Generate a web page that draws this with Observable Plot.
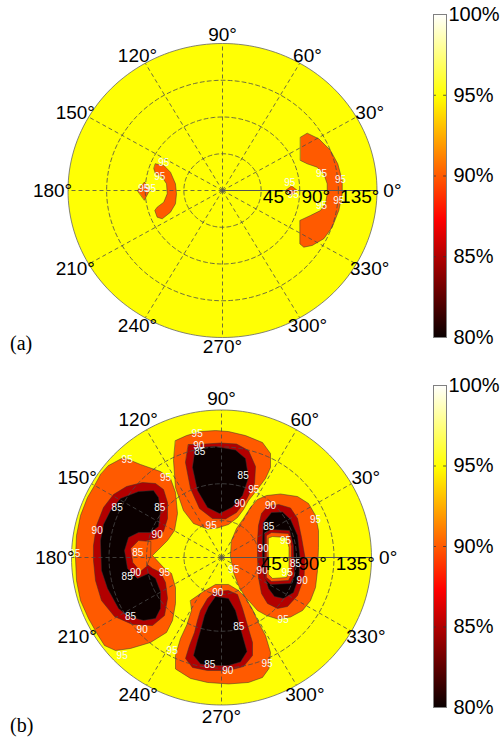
<!DOCTYPE html>
<html><head><meta charset="utf-8">
<script src="https://cdn.jsdelivr.net/npm/d3@7"></script>
<script src="https://cdn.jsdelivr.net/npm/@observablehq/plot@0.6"></script>
<style>
html,body{margin:0;padding:0;background:#fff;}
#root{position:relative;width:500px;height:739px;overflow:hidden;font-family:"Liberation Sans",Arial,sans-serif;}
.panel{position:absolute;left:0;width:500px;}
.panel svg{position:absolute;top:0;}
.tag{position:absolute;left:10px;font-family:"Liberation Serif","Times New Roman",serif;font-size:20px;line-height:24px;color:#000;}
</style></head><body>
<div id="root">
  <div id="pa" class="panel" style="top:0;height:370px"></div>
  <div id="pb" class="panel" style="top:370px;height:369px"></div>
  <div class="tag" style="top:331px">(a)</div>
  <div class="tag" style="top:713px">(b)</div>
</div>
<script>
// ---------- axes / ticks ----------
const azimuthTicks = [0, 30, 60, 90, 120, 150, 180, 210, 240, 270, 300, 330];
const ringTicks = [45, 90, 135];
const colorbarTicks = [80, 85, 90, 95, 100];

// ---------- panel (a): contour vertices [x, y] in polar-plot units ----------
const a_right_crescent = [[90.9,65.3],[98.7,70.2],[112.2,63.3],[125.8,49],[134.3,32.7],[139.5,12.2],[139.5,-4],[135.5,-24.5],[127.8,-44.9],[118,-59.1],[104.5,-67.3],[94.7,-69.4],[90.1,-65.3],[90.1,-36.7],[102.5,-30.6],[114.2,-24.5],[120,-16.3],[122,-4],[122,8.2],[118,20.4],[110.3,28.5],[98.7,32.7],[90.9,36.7]];
const a_right_diamond = [[73.4,0],[80.4,5.5],[87.4,0],[80.4,-5.5]];
const a_left_crescent = [[-78.1,32.7],[-68.4,30.6],[-60.6,22.4],[-54.8,8.2],[-53.6,-4],[-54.8,-16.3],[-60.6,-26.6],[-70.2,-34.7],[-76.1,-32.7],[-78.9,-24.5],[-76.1,-20.4],[-68.4,-14.3],[-64.4,-4],[-65.2,8.2],[-70.2,16.3],[-78.1,20.4],[-80,26.6]];
const a_left_diamond = [[-99,0],[-90.9,10.4],[-85,0],[-90.9,-11.6]];
const a_labels = [[-68.4,33.4,"95"],[-73,17.1,"95"],[-91.7,2.1,"95"],[-83.9,2.1,"95"],[78.4,8.9,"95"],[82.4,-4.9,"95"],[115.3,20.4,"95"],[137.5,13.5,"95"],[115.3,-19.2,"95"],[135.5,-12.2,"95"]];

// ---------- panel (b) ----------
const b_left_o = [[-135.6,112.2],[-117.6,122],[-97.2,113.5],[-73.2,104.9],[-61.2,96.4],[-55.2,79.3],[-52.8,53.7],[-56.4,32.9],[-64.8,20.7],[-82.8,2.4],[-69.6,-12.2],[-60,-19.5],[-55.2,-36.6],[-55.2,-56.1],[-58.8,-76.9],[-66,-91.5],[-85.2,-103.7],[-109.2,-111],[-127.2,-113.5],[-140.4,-107.4],[-148.8,-93.9],[-159.6,-74.4],[-169.2,-52.5],[-174,-28.1],[-175.2,0],[-174,26.8],[-169.2,51.2],[-160.8,73.2],[-152.4,87.8],[-145.2,101.3]];
const b_left_r = [[-153.6,14.6],[-150,39],[-141.6,61],[-129.6,76.9],[-114,86.6],[-94.8,91.5],[-79.2,90.3],[-69.6,83],[-64.8,67.1],[-64.8,47.6],[-69.6,31.7],[-76.8,23.2],[-90,20.7],[-97.2,11],[-92.4,-6.1],[-82.8,-13.4],[-73.2,-18.3],[-67.2,-30.5],[-64.8,-50],[-68.4,-70.8],[-82.8,-83],[-106.8,-81.7],[-128.4,-72],[-144,-52.5],[-151.2,-28.1],[-153.6,-3.7]];
const b_left_k = [[-145.2,20.7],[-141.6,40.3],[-133.2,57.3],[-121.2,72],[-99.6,80.5],[-81.6,81.7],[-75.6,73.2],[-73.2,57.3],[-75.6,37.8],[-85.2,30.5],[-99.6,30.5],[-111.6,24.4],[-116.4,8.5],[-112.8,-13.4],[-100.8,-25.6],[-87.6,-19.5],[-79.2,-25.6],[-73.2,-41.5],[-73.2,-62.2],[-79.2,-74.4],[-93.6,-76.9],[-111.6,-72],[-123.6,-62.2],[-136.8,-37.8],[-144,-15.9]];
const b_left_f = [[-85.2,19.5],[-99.6,20.7],[-109,11],[-106.5,-6.1],[-97.2,-17.1],[-90,-11],[-85.2,1.2]];
const b_top_o = [[-55.2,142.7],[-42,148.8],[-25.2,153.7],[-7.2,154.9],[8.4,153.7],[28.8,148.8],[49.2,140.3],[58.8,126.9],[58.8,109.8],[52.8,96.4],[42,81.7],[32.4,69.5],[26.4,58.6],[19.2,48.8],[8.4,40.3],[-4.8,36],[-16.8,34.8],[-33.6,41.5],[-45.6,57.3],[-55.2,85.4],[-57.6,118.3]];
const b_top_r = [[-39.6,137.9],[-27.6,137.9],[-1.2,139.7],[18,138.5],[32.4,130.5],[40.8,111],[39.6,90.3],[30,70.8],[18,54.9],[4.8,47],[-10.8,47.6],[-26.4,59.8],[-37.2,84.2],[-43.2,115.9]];
const b_top_k = [[-31.2,134.2],[-7.2,135.4],[16.8,131.2],[28.8,120.8],[32.4,97.6],[25.2,75.6],[13.2,61.6],[-2.4,53.7],[-16.8,61],[-28.8,81.7],[-34.8,109.8]];
const b_right_o = [[12,20.7],[18,35.4],[26.4,47.6],[34.8,61],[43.2,70.8],[54,75.6],[70.8,77.5],[91.2,74.4],[104.4,65.9],[112.8,51.2],[116.4,32.9],[116.4,12.2],[115.2,-15.9],[112.8,-36.6],[106.8,-52.5],[97.2,-64.7],[82.8,-72.6],[67.2,-75],[54,-70.8],[43.2,-64.7],[33.6,-53.7],[28.8,-48.8],[20.4,-34.2],[14.4,-18.3],[10.8,1.2]];
const b_right_r = [[43.2,20.7],[44.4,39],[48,53.7],[55.2,62.2],[68.4,64.7],[82.8,60.4],[91.2,47.6],[96,24.4],[100.2,0],[99,-24.4],[91.2,-46.4],[79.2,-59.8],[67.2,-62.2],[55.2,-56.1],[48,-43.9],[44.4,-24.4],[43.2,0]];
const b_right_k = [[50.4,42.7],[60,54.9],[73.2,55.5],[82.8,46.4],[91.2,26.8],[94.2,0],[93,-23.2],[86.4,-42.7],[74.4,-50],[63.6,-47.6],[56.4,-37.8],[51.6,-22],[49.2,0],[49.2,23.2]];
const b_right_ri = [[51.6,29.3],[58.8,34.2],[81.6,32.9],[86.4,14.6],[87.6,-22],[82.8,-31.7],[58.8,-32.9],[51.6,-25.6]];
const b_right_oi = [[54,26.8],[60,30.5],[80.4,29.3],[84,13.4],[84,-20.7],[80.4,-28.1],[60,-29.3],[54,-24.4]];
const b_right_yi = [[56.4,23.8],[61.2,25.6],[78,24.4],[81,12.2],[81,-18.3],[78,-24.4],[61.2,-25.6],[56.4,-20.7]];
const b_bot_o = [[-37.2,-52.5],[-21.6,-41.5],[-7.2,-32.9],[8.4,-32.9],[20.4,-40.3],[28.8,-48.8],[37.2,-63.4],[44.4,-79.3],[52.8,-95.2],[58.8,-115.9],[57,-135.4],[49.2,-146.4],[32.4,-152.5],[8.4,-154.3],[-16.8,-152.5],[-37.2,-147.6],[-55.2,-136],[-55.2,-119.6],[-49.2,-98.8],[-41.4,-81.7],[-36,-64.7]];
const b_bot_r = [[-25.2,-64.7],[-16.8,-50],[-7.2,-41.5],[8.4,-40.3],[19.2,-45.1],[25.2,-62.2],[31.2,-83],[37.2,-103.7],[37.2,-119.6],[26.4,-133],[8.4,-137.9],[-16.8,-137.9],[-34.8,-134.2],[-43.2,-123.2],[-38.4,-107.4],[-32.4,-91.5],[-28.8,-76.9]];
const b_bot_k = [[-15.6,-59.8],[-7.2,-47.6],[8.4,-50],[16.8,-64.7],[22.8,-86.6],[30.6,-114.7],[22.8,-127.5],[8.4,-131.8],[-9.6,-131.8],[-25.2,-129.9],[-33.6,-119.6],[-28.8,-101.3],[-25.2,-89.1],[-20.4,-70.8]];
const b_labels = [[-29.2,150.9,"95"],[-27.2,136.6,"90"],[-26,128.5,"85"],[-113.2,119.2,"95"],[-67.2,97.2,"95"],[26,100,"85"],[38.8,82.6,"95"],[-125.2,60.1,"85"],[-74,60.1,"85"],[22,65.5,"90"],[58.8,63.4,"90"],[112.8,46,"95"],[-149.2,32.9,"90"],[-77.2,28.1,"90"],[-12.4,39,"95"],[56.8,37.8,"85"],[76.8,20.7,"95"],[50,10.6,"90"],[-176,4.5,"95"],[-100.4,5.2,"85"],[-113.2,-24,"85"],[-103.2,-18.7,"90"],[-68.4,-18.7,"95"],[14.8,-14.6,"95"],[88.8,-7.7,"85"],[78.8,-18.7,"95"],[48.8,-15.9,"90"],[96.8,-28.1,"90"],[-4.4,-43.6,"90"],[-109.2,-72.8,"85"],[74,-76,"95"],[20.8,-84.2,"85"],[-95.2,-88.2,"90"],[-59.2,-113.5,"95"],[-119.2,-119.6,"95"],[54.8,-129.7,"95"],[-14,-130.9,"85"],[7.6,-138.7,"90"]];

// ---------- colour map (MATLAB "hot") ----------
const hotScale = d3.scaleLinear().domain([0, 23/63, 47/63, 1]).range(["#0b0000", "#ff0000", "#ffff00", "#ffffff"]).clamp(true);
const colorOpts = {type: "linear", domain: [colorbarTicks[0], colorbarTicks[colorbarTicks.length - 1]], interpolate: t => hotScale(t)};
const FONT = '"Liberation Sans", Arial, sans-serif';
const rad = a => a * Math.PI / 180;
const circlePts = r => d3.range(0, 361, 2).map(a => [r * Math.cos(rad(a)), r * Math.sin(rad(a)), r]);

function polarPanel(cfg) {
  const outer = circlePts(180);
  const rings = ringTicks.flatMap(circlePts);
  const gridStyle = {stroke: "#4a4a4a", strokeWidth: 0.8, strokeDasharray: "4,3"};
  const layers = cfg.layers.map(([pts, level]) =>
    Plot.line(pts, {x: d => d[0], y: d => d[1], fill: () => level, stroke: "#333", strokeWidth: 0.5, curve: "linear-closed"}));
  return Plot.plot({
    width: 500, height: cfg.height,
    marginLeft: cfg.ml, marginRight: cfg.mr, marginTop: cfg.mt, marginBottom: cfg.mb,
    x: {domain: [-180, 180], axis: null},
    y: {domain: [-180, 180], axis: null},
    color: colorOpts,
    style: {background: "transparent", fontFamily: FONT, overflow: "visible"},
    marks: [
      Plot.line(outer, {x: d => d[0], y: d => d[1], fill: () => 95, stroke: "none", curve: "linear-closed"}),
      ...layers,
      Plot.line(rings, {x: d => d[0], y: d => d[1], z: d => d[2], ...gridStyle}),
      Plot.link(azimuthTicks, {x1: () => 0, y1: () => 0, x2: a => 180 * Math.cos(rad(a)), y2: a => 180 * Math.sin(rad(a)), ...gridStyle}),
      Plot.link([0], {x1: () => 0, y1: () => 0, x2: () => 180, y2: () => 0, stroke: "#555", strokeWidth: 1}),
      Plot.line(outer, {x: d => d[0], y: d => d[1], stroke: "#666", strokeWidth: 0.8}),
      Plot.text(cfg.labels, {x: d => d[0], y: d => d[1], text: d => d[2], fill: "#fafafa", fontSize: 10}),
      Plot.text(ringTicks, {x: r => r + 2, y: () => -8, text: r => r + "°", textAnchor: "start", fontSize: 19, fill: "black"}),
      Plot.text(azimuthTicks, {x: a => cfg.lr[0] * Math.cos(rad(a)), y: a => cfg.lr[1] * Math.sin(rad(a)), text: a => a + "°", fontSize: 19, fill: "black"})
    ]
  });
}

function colorbarPanel(id, height, mt, mb) {
  const inner = colorbarTicks.slice(1, -1);
  const p = Plot.plot({
    width: 80, height, marginLeft: 13, marginRight: 54, marginTop: mt, marginBottom: mb,
    x: {domain: [0, 1], axis: null},
    y: {domain: [colorbarTicks[0], colorbarTicks[colorbarTicks.length - 1]], axis: null},
    style: {background: "transparent", fontFamily: FONT, overflow: "visible"},
    marks: [
      Plot.rect([0], {x1: () => 0, x2: () => 1, y1: () => 80, y2: () => 100, fill: "white"}),
      Plot.ruleY(inner, {y: d => d, x1: () => 0, x2: () => 0.22, stroke: "#333", strokeWidth: 0.8}),
      Plot.ruleY(inner, {y: d => d, x1: () => 0.78, x2: () => 1, stroke: "#333", strokeWidth: 0.8}),
      Plot.frame({stroke: "#808080", strokeWidth: 1}),
      Plot.text(colorbarTicks.filter(t => t < 100), {x: () => 1, y: t => t, text: t => t + "%", textAnchor: "start", dx: 7, fontSize: 20, fill: "black"}),
      Plot.text(colorbarTicks.filter(t => t === 100), {x: () => 1, y: t => t, text: t => t + "%", textAnchor: "start", dx: 2, fontSize: 20, fill: "black"})
    ]
  });
  const svg = d3.select(p);
  const g = svg.insert("defs", ":first-child").append("linearGradient")
    .attr("id", id).attr("x1", 0).attr("y1", 1).attr("x2", 0).attr("y2", 0);
  [0, 23/63, 47/63, 1].forEach(t => g.append("stop").attr("offset", t).attr("stop-color", hotScale(t)));
  svg.selectAll("g[aria-label=rect] rect").attr("fill", `url(#${id})`);
  p.style.left = "420px";
  return p;
}

const O = 90, R = 85, K = 80, Y = 95;
const pa = polarPanel({
  height: 370, ml: 67.5, mr: 123.5, mt: 43, mb: 33, lr: [198, 191],
  layers: [[a_right_crescent, O], [a_right_diamond, O], [a_left_crescent, O], [a_left_diamond, O]],
  labels: a_labels
});
pa.style.left = "0px";
document.getElementById("pa").append(pa, colorbarPanel("hot-a", 370, 14, 33));

const pb = polarPanel({
  height: 369, ml: 71, mr: 129, mt: 39.5, mb: 34.5, lr: [200, 194],
  layers: [
    [b_left_o, O], [b_top_o, O], [b_right_o, O], [b_bot_o, O],
    [b_left_r, R], [b_top_r, R], [b_right_r, R], [b_bot_r, R],
    [b_left_k, K], [b_top_k, K], [b_right_k, K], [b_bot_k, K],
    [b_left_f, O], [b_right_ri, R], [b_right_oi, O], [b_right_yi, Y]
  ],
  labels: b_labels
});
pb.style.left = "0px";
document.getElementById("pb").append(pb, colorbarPanel("hot-b", 369, 15, 32));
</script>
</body></html>
